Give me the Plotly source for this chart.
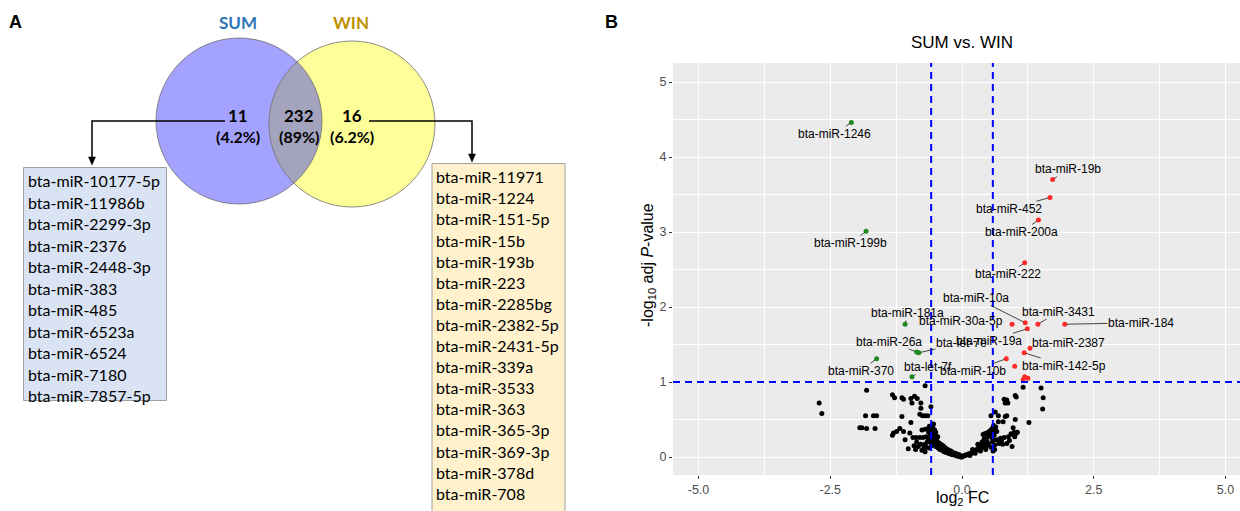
import plotly.graph_objects as go

W, H = 1240, 511

# ---------------- Data ----------------
venn_sets = ["SUM", "WIN"]
venn_counts = ["11", "232", "16"]
venn_pcts = ["(4.2%)", "(89%)", "(6.2%)"]

sum_only = ["bta-miR-10177-5p", "bta-miR-11986b", "bta-miR-2299-3p", "bta-miR-2376",
            "bta-miR-2448-3p", "bta-miR-383", "bta-miR-485", "bta-miR-6523a",
            "bta-miR-6524", "bta-miR-7180", "bta-miR-7857-5p"]
win_only = ["bta-miR-11971", "bta-miR-1224", "bta-miR-151-5p", "bta-miR-15b",
            "bta-miR-193b", "bta-miR-223", "bta-miR-2285bg", "bta-miR-2382-5p",
            "bta-miR-2431-5p", "bta-miR-339a", "bta-miR-3533", "bta-miR-363",
            "bta-miR-365-3p", "bta-miR-369-3p", "bta-miR-378d", "bta-miR-708"]

# significant (labelled) miRNAs: name, log2FC, -log10 adj P
up_names = ["bta-miR-19b", "bta-miR-452", "bta-miR-200a", "bta-miR-222", "bta-miR-10a",
            "bta-miR-3431", "bta-miR-184", "bta-miR-30a-5p", "bta-miR-19a", "bta-miR-2387",
            "bta-miR-142-5p", "bta-miR-10b"]
up_fc = [1.72, 1.67, 1.45, 1.19, 1.20, 1.44, 1.95, 0.95, 1.24, 1.29, 1.18, 0.84]
up_p = [3.70, 3.46, 3.16, 2.59, 1.79, 1.77, 1.77, 1.77, 1.71, 1.45, 1.39, 1.31]
up_extra_fc = [1.00, 1.19, 1.25, 1.16]
up_extra_p = [1.21, 1.07, 1.05, 1.03]

down_names = ["bta-miR-1246", "bta-miR-199b", "bta-miR-181a", "bta-miR-26a",
              "bta-let-7e", "bta-miR-370", "bta-let-7f"]
down_fc = [-2.10, -1.82, -1.08, -0.86, -0.82, -1.62, -0.95]
down_p = [4.46, 3.01, 1.77, 1.40, 1.39, 1.31, 1.07]

# non-significant miRNAs
ns_fc = [-2.71, -2.66, -1.81, -1.83, -1.68, -1.62, -1.94, -1.90, -1.81, -1.65,
         -1.32, -1.28, -1.14, -1.11, -0.97, -0.90, -0.85, -0.95, -0.78, -0.78, -0.70, -0.59,
         -1.14, -0.80, -0.75, -0.70, -0.65, -0.97,
         -1.18, -1.24, -1.30, -1.32, -1.11, -0.99,
         -0.93, -0.87, -0.80, -0.74, -0.68, -1.08, -1.02, -0.91, -0.83,
         -0.76, -0.70, -0.63, -0.63, -0.58, -0.56, -0.54, -0.58, -0.56, -0.52, -0.50, -0.60, -0.55, -0.62,
         -0.60, -0.55, -0.52, -0.58, -0.62, -0.68, -0.72, -0.50, -0.47, -0.45, -0.42, -0.40, -0.38,
         -0.36, -0.34, -0.32, -0.30, -0.28, -0.26, -0.24, -0.22, -0.20, -0.18, -0.16, -0.14, -0.12,
         -0.10, -0.08, -0.06, -0.04, -0.02, 0.00,
         -0.48, -0.44, -0.40, -0.36, -0.33, -0.30, -0.27, -0.25, -0.21, -0.17, -0.13, -0.09, -0.05,
         -0.66, -0.64, -0.57, -0.53, -0.49, -0.46, -0.70, -0.78, -0.86, -0.88, -0.76, -0.70,
         1.16, 1.50, 1.54, 1.53, 1.27,
         0.80, 0.85, 0.82, 0.87, 1.01, 1.03,
         0.63, 0.55, 0.69, 0.82, 0.85, 1.01, 0.69, 0.78,
         0.97, 0.99, 1.02, 0.97, 0.93, 1.05,
         0.60, 0.57, 0.62, 0.53, 0.50, 0.47, 0.43, 0.40, 0.52, 0.55, 0.60, 0.64,
         0.88, 1.00, 0.80, 0.73, 0.66, 0.58,
         0.85, 0.77, 0.62, 0.55,
         0.02, 0.04, 0.06, 0.08, 0.10, 0.12, 0.14, 0.16, 0.18, 0.20, 0.22, 0.24, 0.26, 0.28,
         0.30, 0.32, 0.34, 0.36, 0.38, 0.40, 0.42, 0.44, 0.46, 0.48, 0.50, 0.35, 0.25, 0.15,
         0.45, 0.30, 0.20, 0.38, 0.42, 0.48,
         0.58, 0.56, 0.61, 0.66, 0.70, 0.75, 0.90, 0.95, 0.62, 0.59]
ns_p = [0.72, 0.58, 0.89, 0.55, 0.55, 0.55, 0.39, 0.39, 0.38, 0.38,
        0.83, 0.79, 0.79, 0.77, 0.78, 0.81, 0.78, 0.72, 0.72, 0.65, 0.95, 0.67,
        0.54, 0.57, 0.55, 0.55, 0.55, 0.46,
        0.38, 0.34, 0.32, 0.29, 0.34, 0.32,
        0.26, 0.26, 0.26, 0.26, 0.27, 0.23, 0.11, 0.15, 0.14,
        0.36, 0.37, 0.38, 0.33, 0.40, 0.42, 0.44, 0.33, 0.29, 0.36, 0.33, 0.30, 0.38, 0.41,
        0.20, 0.22, 0.18, 0.15, 0.12, 0.13, 0.12, 0.14, 0.16, 0.12, 0.10, 0.13, 0.09,
        0.11, 0.07, 0.08, 0.06, 0.07, 0.05, 0.06, 0.04, 0.05, 0.03, 0.04, 0.03, 0.02,
        0.02, 0.01, 0.01, 0.01, 0.00, 0.00,
        0.22, 0.19, 0.17, 0.15, 0.13, 0.11, 0.10, 0.09, 0.08, 0.06, 0.05, 0.04, 0.03,
        0.20, 0.24, 0.26, 0.25, 0.28, 0.27, 0.17, 0.17, 0.20, 0.10, 0.09, 0.07,
        0.93, 0.92, 0.79, 0.64, 0.46,
        0.77, 0.76, 0.72, 0.72, 0.82, 0.80,
        0.60, 0.55, 0.55, 0.54, 0.55, 0.50, 0.47, 0.47,
        0.39, 0.33, 0.31, 0.30, 0.31, 0.33,
        0.42, 0.38, 0.36, 0.35, 0.33, 0.32, 0.31, 0.30, 0.30, 0.31, 0.32, 0.40,
        0.27, 0.27, 0.26, 0.25, 0.23, 0.24,
        0.18, 0.17, 0.16, 0.13,
        0.01, 0.02, 0.02, 0.03, 0.03, 0.04, 0.04, 0.05, 0.05, 0.06, 0.07, 0.08, 0.09, 0.10,
        0.11, 0.12, 0.12, 0.14, 0.15, 0.13, 0.16, 0.18, 0.14, 0.20, 0.17, 0.08, 0.05, 0.02,
        0.10, 0.17, 0.10, 0.20, 0.24, 0.26,
        0.20, 0.27, 0.29, 0.34, 0.18, 0.21, 0.22, 0.14, 0.10, 0.08]

fc_cut = 0.585
p_cut = 1.0

x_ticks = [-5.0, -2.5, 0.0, 2.5, 5.0]
y_ticks = [0, 1, 2, 3, 4, 5]

# label positions (data units) for the repelled labels
label_pos = {
    "bta-miR-1246": (-2.41, 4.31), "bta-miR-199b": (-2.11, 2.85),
    "bta-miR-19b": (2.01, 3.84), "bta-miR-452": (0.89, 3.31),
    "bta-miR-200a": (1.13, 3.00), "bta-miR-222": (0.87, 2.44),
    "bta-miR-10a": (0.26, 2.12), "bta-miR-3431": (1.84, 1.94),
    "bta-miR-184": (3.40, 1.79), "bta-miR-181a": (-1.03, 1.92),
    "bta-miR-30a-5p": (-0.01, 1.82), "bta-miR-19a": (0.51, 1.55),
    "bta-miR-2387": (2.03, 1.52), "bta-miR-142-5p": (1.94, 1.22),
    "bta-miR-10b": (0.21, 1.15), "bta-miR-26a": (-1.39, 1.54),
    "bta-let-7e": (-0.01, 1.52), "bta-miR-370": (-1.92, 1.15),
    "bta-let-7f": (-0.65, 1.20),
}
no_segment = {"bta-miR-30a-5p"}


def px(x):
    return x / W


def py(y):
    return 1 - y / H


fig = go.Figure()

# ---------------- Volcano plot ----------------
fig.add_trace(go.Scatter(x=ns_fc, y=ns_p, mode="markers",
                         marker=dict(color="black", size=5), hoverinfo="skip"))
fig.add_trace(go.Scatter(x=down_fc, y=down_p, mode="markers",
                         marker=dict(color="#1F8A1F", size=5), text=down_names))
fig.add_trace(go.Scatter(x=up_fc + up_extra_fc, y=up_p + up_extra_p, mode="markers",
                         marker=dict(color="#FF2A2A", size=5)))

annotations = []
for names, xs, ys in [(down_names, down_fc, down_p), (up_names, up_fc, up_p)]:
    for n, xv, yv in zip(names, xs, ys):
        lx, ly = label_pos[n]
        if n in no_segment:
            annotations.append(dict(x=lx, y=ly, xref="x", yref="y", text=n, showarrow=False,
                                    font=dict(family="Liberation Sans", size=12, color="black")))
        else:
            annotations.append(dict(x=xv, y=yv, xref="x", yref="y", ax=lx, ay=ly,
                                    axref="x", ayref="y", text=n, showarrow=True,
                                    arrowhead=0, arrowwidth=0.7, arrowcolor="black",
                                    standoff=2, borderpad=0,
                                    font=dict(family="Liberation Sans", size=12, color="black")))

shapes = []
dash_style = dict(color="#0000FF", width=2, dash="7px,5px")
for xv in (-fc_cut, fc_cut):
    shapes.append(dict(type="line", xref="x", yref="y domain", x0=xv, x1=xv, y0=0, y1=1,
                       line=dash_style))
shapes.append(dict(type="line", xref="x domain", yref="y", x0=0, x1=1, y0=p_cut, y1=p_cut,
                   line=dash_style))

# ---------------- Venn diagram (panel A) ----------------
L_c, R_c, rad = (239, 121), (352, 124), 83


def circle(c, r, **kw):
    return dict(type="circle", xref="paper", yref="paper",
                x0=px(c[0] - r), x1=px(c[0] + r), y0=py(c[1] + r), y1=py(c[1] - r), **kw)


shapes.append(circle(R_c, rad, fillcolor="#FFFF99", line=dict(width=0)))
shapes.append(circle(L_c, rad, fillcolor="rgb(0,0,255)", opacity=0.36, line=dict(width=0)))
shapes.append(circle(L_c, rad, line=dict(color="#6E6E6E", width=0.8)))
shapes.append(circle(R_c, rad, line=dict(color="#6E6E6E", width=0.8)))

# list boxes
shapes.append(dict(type="rect", xref="paper", yref="paper", x0=px(23.5), x1=px(166.5),
                   y0=py(400.5), y1=py(167.5), fillcolor="#DAE3F3",
                   line=dict(color="#A0A0A0", width=1)))
shapes.append(dict(type="rect", xref="paper", yref="paper", x0=px(432), x1=px(565),
                   y0=py(520), y1=py(163.5), fillcolor="#FFF2CC",
                   line=dict(color="#A0A0A0", width=1)))


def ppath(pts, close=False):
    s = "M " + " L ".join(f"{px(a):.5f},{py(b):.5f}" for a, b in pts)
    return s + (" Z" if close else "")


shapes.append(dict(type="path", xref="paper", yref="paper",
                   path=ppath([(225, 121), (92, 121), (92, 158)]),
                   line=dict(color="black", width=1.5)))
shapes.append(dict(type="path", xref="paper", yref="paper",
                   path=ppath([(88.5, 157), (95.5, 157), (92, 165)], close=True),
                   fillcolor="black", line=dict(color="black", width=0.5)))
shapes.append(dict(type="path", xref="paper", yref="paper",
                   path=ppath([(369, 121), (472, 121), (472, 155)]),
                   line=dict(color="black", width=1.5)))
shapes.append(dict(type="path", xref="paper", yref="paper",
                   path=ppath([(468.5, 154), (475.5, 154), (472, 162)], close=True),
                   fillcolor="black", line=dict(color="black", width=0.5)))


def ptext(x, y, text, size, color="black", bold=False, family="Lato", anchor="center", angle=0):
    return dict(x=px(x), y=py(y), xref="paper", yref="paper", showarrow=False,
                text=f"<b>{text}</b>" if bold else text, xanchor=anchor, yanchor="middle",
                textangle=angle, font=dict(family=family, size=size, color=color))


annotations.append(ptext(15, 22, "A", 18, bold=True, family="Liberation Sans"))
annotations.append(ptext(611, 22, "B", 18, bold=True, family="Liberation Sans"))
annotations.append(ptext(238, 22, venn_sets[0], 17, color="#2E75B6", bold=True))
annotations.append(ptext(351, 22, venn_sets[1], 17, color="#BF9000", bold=True))
for xc, cnt, pct in zip([238, 299, 352], venn_counts, venn_pcts):
    annotations.append(ptext(xc, 115, cnt, 17, bold=True))
    annotations.append(ptext(xc, 136.5, pct, 16, bold=True))

for i, n in enumerate(sum_only):
    annotations.append(ptext(26, 180.7 + i * 21.5, n, 16, anchor="left"))
for i, n in enumerate(win_only):
    annotations.append(ptext(434, 176.7 + i * 21.1, n, 16, anchor="left"))

# titles for panel B
annotations.append(ptext(962, 42, "SUM vs. WIN", 17, family="Liberation Sans"))
annotations.append(ptext(962, 498, "log<sub>2</sub> FC", 16, family="Liberation Sans"))
annotations.append(ptext(648, 265, "-log<sub>10</sub> adj <i>P</i>-value", 16,
                         family="Liberation Sans", angle=-90))

x0p, x1p = 673, 1240
y0p, y1p = 63, 475
scale_x = 52.7
scale_y = 75.0
xr = [(x0p - 962) / scale_x, (x1p - 962) / scale_x]
yr = [(457 - y1p) / scale_y, (457 - y0p) / scale_y]

axis_common = dict(showgrid=True, gridcolor="white", gridwidth=1.1, zeroline=False,
                   showline=False, ticks="outside", ticklen=3, tickwidth=1,
                   tickcolor="#333333",
                   tickfont=dict(family="Liberation Sans", size=12.5, color="#4D4D4D"))

fig.update_layout(
    width=W, height=H, margin=dict(l=0, r=0, t=0, b=0),
    paper_bgcolor="white", plot_bgcolor="#EBEBEB", showlegend=False,
    xaxis=dict(domain=[px(x0p), 1.0], range=xr, tickmode="array", tickvals=x_ticks,
               ticktext=[f"{v:.1f}" for v in x_ticks],
               minor=dict(tickmode="array", tickvals=[-3.75, -1.25, 1.25, 3.75],
                          showgrid=True, gridcolor="white", gridwidth=0.5, ticks=""),
               **axis_common),
    yaxis=dict(domain=[py(y1p), py(y0p)], range=yr, tickmode="array", tickvals=y_ticks,
               minor=dict(tickmode="array", tickvals=[0.5, 1.5, 2.5, 3.5, 4.5],
                          showgrid=True, gridcolor="white", gridwidth=0.5, ticks=""),
               **axis_common),
    shapes=shapes, annotations=annotations,
)

fig.write_html("out.html", config={"displayModeBar": False},
               post_script="document.body.style.margin='0';document.body.style.overflow='hidden';")
